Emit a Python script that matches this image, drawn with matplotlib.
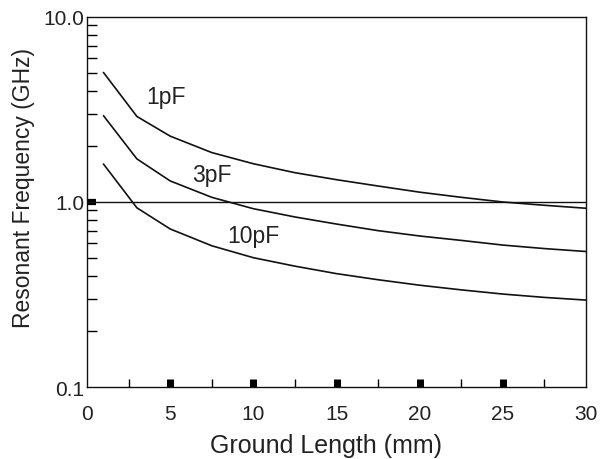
import matplotlib
matplotlib.use("Agg")
import matplotlib.pyplot as plt
from matplotlib.ticker import FixedLocator, NullFormatter

plt.rcParams["font.family"] = ["Liberation Sans", "DejaVu Sans"]

# 谐振频率 vs 接地长度 (三种电容)
ground_mm = [1, 3, 5, 7.5, 10, 12.5, 15, 17.5, 20, 22.5, 25, 27.5, 30]
f_1pf = [5.0, 2.9, 2.27, 1.85, 1.61, 1.44, 1.32, 1.22, 1.13, 1.06, 1.0, 0.96, 0.925]
f_3pf = [2.92, 1.71, 1.30, 1.06, 0.92, 0.83, 0.76, 0.70, 0.655, 0.62, 0.585, 0.56, 0.54]
f_10pf = [1.60, 0.93, 0.715, 0.58, 0.50, 0.45, 0.41, 0.38, 0.355, 0.335, 0.318, 0.305, 0.295]

curve_labels = ["1pF", "3pF", "10pF"]
label_x = [4.75, 7.5, 10.0]
label_y = [3.74, 1.40, 0.655]

x_ticks = [0, 5, 10, 15, 20, 25, 30]
x_minor = [2.5, 7.5, 12.5, 17.5, 22.5, 27.5]
y_ticks = [0.1, 1.0, 10.0]
y_ticklabels = ["0.1", "1.0", "10.0"]
y_minor = [0.2, 0.3, 0.4, 0.5, 0.6, 0.7, 0.8, 0.9, 2, 3, 4, 5, 6, 7, 8, 9]

fig = plt.figure(figsize=(6.02, 4.60), dpi=100)
ax = fig.add_axes([0.1445, 0.1565, 0.829, 0.8044])

for ys in (f_1pf, f_3pf, f_10pf):
    ax.plot(ground_mm, ys, color="#111111", linewidth=1.2)
ax.axhline(1.0, color="#111111", linewidth=1.0)

for txt, lx, ly in zip(curve_labels, label_x, label_y):
    ax.text(lx, ly, txt, fontsize=16.5, ha="center", va="center", color="#222222")

ax.set_yscale("log")
ax.set_xlim(0, 30)
ax.set_ylim(0.1, 10)

ax.xaxis.set_major_locator(FixedLocator(x_ticks))
ax.xaxis.set_minor_locator(FixedLocator(x_minor))
ax.yaxis.set_major_locator(FixedLocator(y_ticks))
ax.yaxis.set_minor_locator(FixedLocator(y_minor))
ax.yaxis.set_minor_formatter(NullFormatter())
ax.set_yticklabels(y_ticklabels)

# 主刻度画成小方块, 次刻度为细线, 都朝内
ax.tick_params(axis="x", which="major", direction="in", length=5.5, width=5,
               pad=12, labelsize=15, labelcolor="#222222")
ax.tick_params(axis="y", which="major", direction="in", length=6.5, width=4.5,
               pad=2, labelsize=15, labelcolor="#222222")
ax.tick_params(axis="x", which="minor", direction="in", length=6, width=1)
ax.tick_params(axis="y", which="minor", direction="in", length=7, width=1)

# 两端的主刻度与边框重合, 不画
xt = ax.xaxis.get_major_ticks()
xt[0].tick1line.set_visible(False)
xt[-1].tick1line.set_visible(False)
yt = ax.yaxis.get_major_ticks()
yt[0].tick1line.set_visible(False)
yt[-1].tick1line.set_visible(False)

for sp in ax.spines.values():
    sp.set_linewidth(1.0)
    sp.set_color("#111111")

ax.set_xlabel("Ground Length (mm)", fontsize=18, color="#222222")
ax.xaxis.set_label_coords(0.478, -0.125)
ax.set_ylabel("Resonant Frequency (GHz)", fontsize=16.5, color="#222222")
ax.yaxis.set_label_coords(-0.105, 0.54)

fig.savefig("out.png", dpi=100)
